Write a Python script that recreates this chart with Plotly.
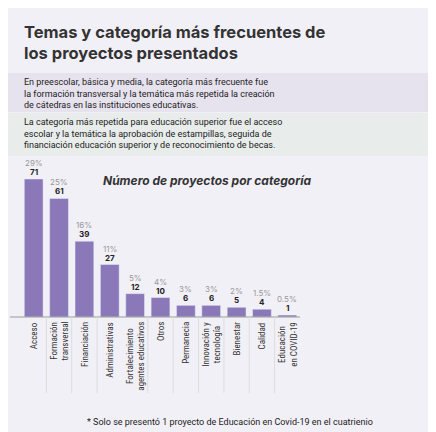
import plotly.graph_objects as go

categories = ["Acceso", "Formación<br>transversal", "Financiación", "Administrativas", "Fortalecimiento<br>agentes educativos",
              "Otros", "Permanecia", "Innovación y<br>tecnología", "Bienestar", "Calidad", "Educación<br>en COVID-19"]
values = [71, 61, 39, 27, 12, 10, 6, 6, 5, 4, 1]
pcts = ["29%", "25%", "16%", "11%", "5%", "4%", "3%", "3%", "2%", "1.5%", "0.5%"]

W, H = 436, 432
def py(y): return 1 - y / H
def px(x): return x / W

x = list(range(len(values)))
fig = go.Figure(go.Bar(x=x, y=values, marker_color="#8a78b8", width=0.74, hoverinfo="skip"))

x0, x1 = 13, 292
ymax = 71 * 159 / 138
fig.update_layout(
    width=W, height=H, margin=dict(l=0, r=0, t=0, b=0),
    paper_bgcolor="#f2f0f7", plot_bgcolor="rgba(0,0,0,0)", showlegend=False,
    font=dict(family="Inter", color="#333"),
    xaxis=dict(domain=[px(x0), px(x1)], range=[-0.5, 10.5], visible=False),
    yaxis=dict(domain=[py(309), py(150)], range=[0, ymax], visible=False),
)
shapes = [
    dict(type="rect", xref="paper", yref="paper", x0=0, x1=px(432), y0=py(104), y1=py(65), fillcolor="#e7e3ee", line_width=0, layer="below"),
    dict(type="rect", xref="paper", yref="paper", x0=0, x1=px(432), y0=py(148), y1=py(105), fillcolor="#e8edeb", line_width=0, layer="below"),
    dict(type="line", xref="paper", yref="paper", x0=px(2), x1=px(292), y0=py(309), y1=py(309), line=dict(color="#999", width=1)),
]
for b in [0.5, 1.5, 2.5, 4.5, 5.5, 6.5, 7.5, 8.5, 9.5]:
    shapes.append(dict(type="line", xref="x", yref="paper", x0=b, x1=b, y0=py(385), y1=py(309), line=dict(color="#ddd", width=1)))
fig.update_layout(shapes=shapes)

ann = []
for i, (v, p) in enumerate(zip(values, pcts)):
    ann.append(dict(x=i, y=v, xref="x", yref="y", text=f"<b>{v}</b>", showarrow=False, yanchor="bottom",
                    font=dict(size=8, color="#222")))
    ann.append(dict(x=i, y=v, xref="x", yref="y", text=p, showarrow=False, yanchor="bottom", yshift=9,
                    font=dict(size=8, color="#999")))
for i, c in enumerate(categories):
    ann.append(dict(x=i, y=py(312), xref="x", yref="paper", text=c, textangle=-90, showarrow=False,
                    xanchor="center", yanchor="top", font=dict(size=9, color="#333", family="Roboto Condensed, Roboto")))
ann += [
    dict(x=px(14), y=py(12), xref="paper", yref="paper", xanchor="left", yanchor="top", align="left", showarrow=False,
         text="<b>Temas y categoría más frecuentes de<br>los proyectos presentados</b>", font=dict(size=16.5, color="#333")),
    dict(x=px(14), y=py(67), xref="paper", yref="paper", xanchor="left", yanchor="top", align="left", showarrow=False,
         text="En preescolar, básica y media, la categoría más frecuente fue<br>la formación transversal y la temática más repetida la creación<br>de cátedras en las instituciones educativas.",
         font=dict(size=9, color="#222", family="Roboto")),
    dict(x=px(14), y=py(107), xref="paper", yref="paper", xanchor="left", yanchor="top", align="left", showarrow=False,
         text="La categoría más repetida para educación superior fue el acceso<br>escolar y la temática la aprobación de estampillas, seguida de<br>financiación educación superior y de reconocimiento de becas.",
         font=dict(size=9, color="#222", family="Roboto")),
    dict(x=px(93), y=py(172), xref="paper", yref="paper", xanchor="left", yanchor="middle", showarrow=False,
         text="<b><i>Número de proyectos por categoría</i></b>", font=dict(size=12, color="#333")),
    dict(x=px(222), y=py(414), xref="paper", yref="paper", xanchor="center", yanchor="middle", showarrow=False,
         text="* Solo se presentó 1 proyecto de Educación en Covid-19 en el cuatrienio", font=dict(size=9, color="#222", family="Roboto")),
]
fig.update_layout(annotations=ann)
fig.write_html("out.html")
